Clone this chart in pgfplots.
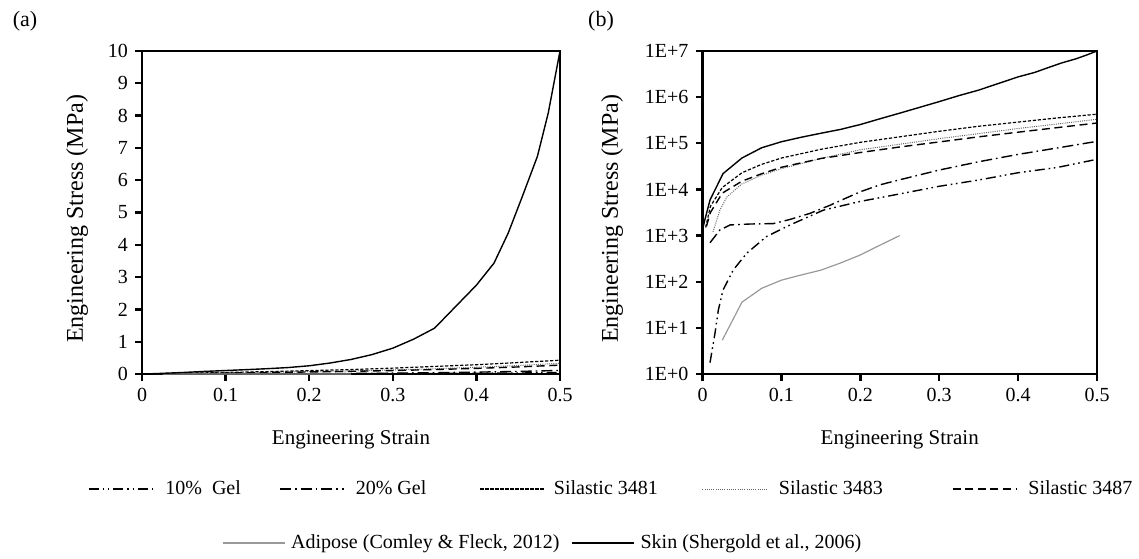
\documentclass[border=0pt]{standalone}
\usepackage{fontspec}
\setmainfont{Liberation Serif}
\usepackage{pgfplots}
\pgfplotsset{compat=1.18}
\usepackage{pgfplotstable}

% Engineering stress in Pa vs engineering strain
\pgfplotstableread{
x y
0.0095 1.76
0.0158 7.6
0.02 24
0.026 66
0.039 180
0.056 413
0.081 950
0.111 1700
0.153 3550
0.2 5500
0.25 8000
0.3 11700
0.35 16000
0.4 23000
0.45 30000
0.5 45000
}\gelten
\pgfplotstableread{
x y
0.0095 700
0.022 1320
0.035 1700
0.06 1780
0.09 1820
0.111 2240
0.136 3020
0.162 4570
0.175 5750
0.2 8900
0.225 12600
0.25 16200
0.3 26300
0.35 39800
0.4 57500
0.45 79400
0.5 110000
}\geltwenty
\pgfplotstableread{
x y
0.004 1500
0.01 4300
0.025 11000
0.05 23000
0.075 35000
0.1 47900
0.15 74000
0.2 105000
0.25 138000
0.3 182000
0.35 234000
0.4 288000
0.45 355000
0.5 427000
}\silA
\pgfplotstableread{
x y
0.0133 1200
0.022 3550
0.031 6900
0.05 13200
0.075 20400
0.1 28200
0.15 46800
0.2 72400
0.25 95500
0.3 126000
0.35 162000
0.4 209000
0.45 263000
0.5 331000
}\silB
\pgfplotstableread{
x y
0.005 1585
0.01 3160
0.025 8300
0.05 15100
0.075 21900
0.1 30200
0.15 46800
0.2 63100
0.25 83200
0.3 107000
0.35 138000
0.4 174000
0.45 219000
0.5 275000
}\silC
\pgfplotstableread{
x y
0.025 5.4
0.05 36
0.075 72
0.1 108
0.125 140
0.15 178
0.175 255
0.2 380
0.225 620
0.25 1000
}\adipose
\pgfplotstableread{
x y
0 1350
0.003 2200
0.0095 5900
0.026 22000
0.05 48000
0.075 80000
0.1 108000
0.125 135000
0.15 165000
0.175 200000
0.2 255000
0.225 340000
0.25 450000
0.275 600000
0.3 800000
0.325 1080000
0.35 1420000
0.4 2750000
0.421 3430000
0.438 4360000
0.455 5500000
0.473 6740000
0.486 8090000
0.5 10000000
}\skin

\tikzset{
  gelten/.style={black, line width=0.7pt, dash pattern=on 5pt off 2pt on 0.8pt off 1.8pt on 0.8pt off 2pt},
  geltwenty/.style={black, line width=0.7pt, dash pattern=on 5.5pt off 2pt on 0.8pt off 2pt},
  silA/.style={black, line width=0.6pt, dash pattern=on 1.6pt off 0.9pt},
  silB/.style={black!60, line width=0.5pt, dash pattern=on 0.5pt off 0.6pt},
  silC/.style={black, line width=0.7pt, dash pattern=on 4pt off 2.3pt},
  adip/.style={black!40, line width=0.6pt},
  skin/.style={black, line width=0.7pt},
}

\pgfplotsset{
  myax/.style={
    scale only axis,
    axis line style={line width=1.2pt},
    tick style={line width=1.2pt, black},
    major tick length=3.5pt,
    tick align=outside,
    xtick pos=left, ytick pos=left,
    xmin=0, xmax=0.5,
    xtick={0,0.1,0.2,0.3,0.4,0.5},
    xticklabels={0,0.1,0.2,0.3,0.4,0.5},
    ticklabel style={font=\fontsize{10}{12}\selectfont},
    xlabel={Engineering Strain},
    xlabel style={font=\fontsize{10.5}{12}\selectfont, at={(axis description cs:0.5,-0.204)}, anchor=center},
    ylabel={Engineering Stress (MPa)},
    ylabel style={font=\fontsize{12}{14}\selectfont, anchor=center},
  },
}

\begin{document}
\begin{tikzpicture}
\path[use as bounding box] (0,0) rectangle (569.5pt,279pt);

\node at (12.5pt,268.5pt) {\fontsize{11}{13}\selectfont (a)};
\node at (300.5pt,268.5pt) {\fontsize{11}{13}\selectfont (b)};

% (a) linear
\begin{axis}[myax, width=209pt, height=161.5pt, at={(71pt,92pt)}, anchor=south west,
  ymin=0, ymax=10,
  ytick={0,1,2,3,4,5,6,7,8,9,10},
  yticklabels={0,1,2,3,4,5,6,7,8,9,10},
  ylabel style={at={(axis description cs:-0.155,0.48)}},
]
\addplot[gelten] table[x=x, y expr=\thisrow{y}*1e-6] {\gelten};
\addplot[geltwenty] table[x=x, y expr=\thisrow{y}*1e-6] {\geltwenty};
\addplot[silA] table[x=x, y expr=\thisrow{y}*1e-6] {\silA};
\addplot[silB] table[x=x, y expr=\thisrow{y}*1e-6] {\silB};
\addplot[silC] table[x=x, y expr=\thisrow{y}*1e-6] {\silC};
\addplot[adip] table[x=x, y expr=\thisrow{y}*1e-6] {\adipose};
\addplot[skin] table[x=x, y expr=\thisrow{y}*1e-6] {\skin};
\end{axis}

% (b) log
\begin{axis}[myax, width=197.25pt, height=161.5pt, at={(351.25pt,92pt)}, anchor=south west,
  ymode=log, ymin=1, ymax=1e7,
  ytick={1,10,100,1000,10000,100000,1000000,10000000},
  yticklabels={1E+0,1E+1,1E+2,1E+3,1E+4,1E+5,1E+6,1E+7},
  yminorticks=false,
  ylabel style={at={(axis description cs:-0.229,0.48)}},
]
\addplot[gelten] table[x=x, y=y] {\gelten};
\addplot[geltwenty] table[x=x, y=y] {\geltwenty};
\addplot[silA] table[x=x, y=y] {\silA};
\addplot[silB] table[x=x, y=y] {\silB};
\addplot[silC] table[x=x, y=y] {\silC};
\addplot[adip] table[x=x, y=y] {\adipose};
\addplot[skin] table[x=x, y=y] {\skin};
\end{axis}

% legend row 1
\begin{axis}[hide axis, scale only axis, width=569.5pt, height=279pt, at={(0pt,0pt)}, anchor=south west,
  xmin=0, xmax=1, ymin=0, ymax=1,
  legend columns=5,
  legend cell align=left,
  legend image code/.code={\draw[#1] (0pt,0pt) -- (32pt,0pt);},
  legend style={at={(0.07726,0.12366)}, anchor=west, draw=none, fill=none,
    inner sep=0pt, outer sep=0pt, column sep=0pt,
    nodes={inner sep=0pt, outer sep=0pt},
    font=\fontsize{10}{12}\selectfont},
]
\addlegendimage{gelten}
\addlegendentry{\makebox[63pt][l]{\hspace{6pt}10\%\ \ Gel}}
\addlegendimage{geltwenty}
\addlegendentry{\makebox[67.5pt][l]{\hspace{5.5pt}20\% Gel}}
\addlegendimage{silA}
\addlegendentry{\makebox[78.5pt][l]{\hspace{4.5pt}Silastic 3481}}
\addlegendimage{silB}
\addlegendentry{\makebox[92.5pt][l]{\hspace{6pt}Silastic 3483}}
\addlegendimage{silC}
\addlegendentry{\hspace{5.5pt}Silastic 3487}
\end{axis}

% legend row 2
\begin{axis}[hide axis, scale only axis, width=569.5pt, height=279pt, at={(0pt,0pt)}, anchor=south west,
  xmin=0, xmax=1, ymin=0, ymax=1,
  legend columns=2,
  legend cell align=left,
  legend image code/.code={\draw[#1] (0pt,0pt) -- (31pt,0pt);},
  legend style={at={(0.19491,0.02688)}, anchor=west, draw=none, fill=none,
    inner sep=0pt, outer sep=0pt, column sep=0pt,
    nodes={inner sep=0pt, outer sep=0pt},
    font=\fontsize{10}{12}\selectfont},
]
\addlegendimage{adip}
\addlegendentry{\makebox[143pt][l]{\hspace{3pt}Adipose (Comley \& Fleck, 2012)}}
\addlegendimage{skin}
\addlegendentry{\hspace{3pt}Skin (Shergold et al., 2006)}
\end{axis}
\end{tikzpicture}
\end{document}
